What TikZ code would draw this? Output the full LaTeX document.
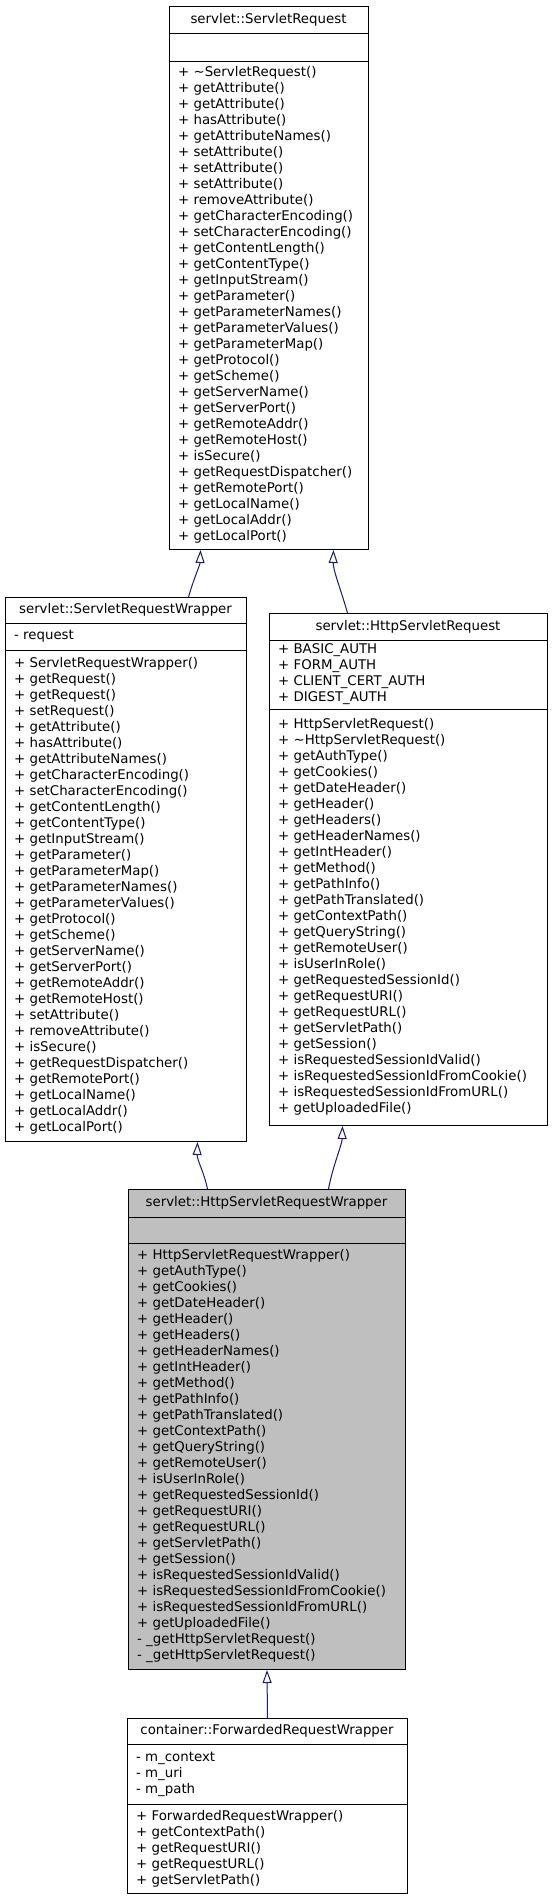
\documentclass[tikz,border=0pt]{standalone}
\usepackage{fontspec}
\setmainfont{DejaVu Sans}
\usetikzlibrary{calc, positioning, arrows.meta}
\definecolor{edgeblue}{HTML}{191970}
\definecolor{classgray}{HTML}{BFBFBF}

\begin{document}
\begin{tikzpicture}[
    x=1pt, y=-1pt,
    every node/.style = {font=\fontsize{13.33}{16}\selectfont, inner sep=0pt},
    cls/.style = {draw, rectangle, line width=1pt, anchor=north west},
    ctitle/.style = {anchor=center},
    members/.style = {anchor=west, align=left},
    sep/.style = {line width=1pt},
    inherit/.style = {draw=edgeblue, line width=1pt,
                      -{Triangle[open, length=13pt, width=9pt]}},
]
\useasboundingbox (0,0) rectangle (552,1899);

% servlet::ServletRequest
\node[cls, minimum width=199pt, minimum height=543pt] (sreq) at (169,6) {};
\draw[sep] ([yshift=-27pt]sreq.north west) -- ([yshift=-27pt]sreq.north east);
\draw[sep] ([yshift=-55pt]sreq.north west) -- ([yshift=-55pt]sreq.north east);
\node[ctitle] (sreq-title) at (268.5,19.5) {servlet::ServletRequest};
\node[members] (sreq-ops) at (178,305) {%
+ \textasciitilde ServletRequest()\\
+ getAttribute()\\
+ getAttribute()\\
+ hasAttribute()\\
+ getAttributeNames()\\
+ setAttribute()\\
+ setAttribute()\\
+ setAttribute()\\
+ removeAttribute()\\
+ getCharacterEncoding()\\
+ setCharacterEncoding()\\
+ getContentLength()\\
+ getContentType()\\
+ getInputStream()\\
+ getParameter()\\
+ getParameterNames()\\
+ getParameterValues()\\
+ getParameterMap()\\
+ getProtocol()\\
+ getScheme()\\
+ getServerName()\\
+ getServerPort()\\
+ getRemoteAddr()\\
+ getRemoteHost()\\
+ isSecure()\\
+ getRequestDispatcher()\\
+ getRemotePort()\\
+ getLocalName()\\
+ getLocalAddr()\\
+ getLocalPort()};

% servlet::ServletRequestWrapper
\node[cls, minimum width=241pt, minimum height=544pt] (srw) at (5,597) {};
\draw[sep] ([yshift=-26pt]srw.north west) -- ([yshift=-26pt]srw.north east);
\draw[sep] ([yshift=-53pt]srw.north west) -- ([yshift=-53pt]srw.north east);
\node[ctitle] (srw-title) at (125.5,610) {servlet::ServletRequestWrapper};
\node[members] (srw-attr) at (14,636.5) {- request};
\node[members] (srw-ops) at (14,895.5) {%
+ ServletRequestWrapper()\\
+ getRequest()\\
+ getRequest()\\
+ setRequest()\\
+ getAttribute()\\
+ hasAttribute()\\
+ getAttributeNames()\\
+ getCharacterEncoding()\\
+ setCharacterEncoding()\\
+ getContentLength()\\
+ getContentType()\\
+ getInputStream()\\
+ getParameter()\\
+ getParameterMap()\\
+ getParameterNames()\\
+ getParameterValues()\\
+ getProtocol()\\
+ getScheme()\\
+ getServerName()\\
+ getServerPort()\\
+ getRemoteAddr()\\
+ getRemoteHost()\\
+ setAttribute()\\
+ removeAttribute()\\
+ isSecure()\\
+ getRequestDispatcher()\\
+ getRemotePort()\\
+ getLocalName()\\
+ getLocalAddr()\\
+ getLocalPort()};

% servlet::HttpServletRequest
\node[cls, minimum width=278pt, minimum height=512pt] (hsr) at (269,613) {};
\draw[sep] ([yshift=-27pt]hsr.north west) -- ([yshift=-27pt]hsr.north east);
\draw[sep] ([yshift=-96pt]hsr.north west) -- ([yshift=-96pt]hsr.north east);
\node[ctitle] (hsr-title) at (408,626.5) {servlet::HttpServletRequest};
\node[members] (hsr-attr) at (278,674.5) {%
+ BASIC\_AUTH\\
+ FORM\_AUTH\\
+ CLIENT\_CERT\_AUTH\\
+ DIGEST\_AUTH};
\node[members] (hsr-ops) at (278,917) {%
+ HttpServletRequest()\\
+ \textasciitilde HttpServletRequest()\\
+ getAuthType()\\
+ getCookies()\\
+ getDateHeader()\\
+ getHeader()\\
+ getHeaders()\\
+ getHeaderNames()\\
+ getIntHeader()\\
+ getMethod()\\
+ getPathInfo()\\
+ getPathTranslated()\\
+ getContextPath()\\
+ getQueryString()\\
+ getRemoteUser()\\
+ isUserInRole()\\
+ getRequestedSessionId()\\
+ getRequestURI()\\
+ getRequestURL()\\
+ getServletPath()\\
+ getSession()\\
+ isRequestedSessionIdValid()\\
+ isRequestedSessionIdFromCookie()\\
+ isRequestedSessionIdFromURL()\\
+ getUploadedFile()};

% servlet::HttpServletRequestWrapper
\node[cls, fill=classgray, minimum width=277pt, minimum height=480pt] (hsrw) at (128,1189) {};
\draw[sep] ([yshift=-28pt]hsrw.north west) -- ([yshift=-28pt]hsrw.north east);
\draw[sep] ([yshift=-54pt]hsrw.north west) -- ([yshift=-54pt]hsrw.north east);
\node[ctitle] (hsrw-title) at (266.5,1203) {servlet::HttpServletRequestWrapper};
\node[members] (hsrw-ops) at (137,1456) {%
+ HttpServletRequestWrapper()\\
+ getAuthType()\\
+ getCookies()\\
+ getDateHeader()\\
+ getHeader()\\
+ getHeaders()\\
+ getHeaderNames()\\
+ getIntHeader()\\
+ getMethod()\\
+ getPathInfo()\\
+ getPathTranslated()\\
+ getContextPath()\\
+ getQueryString()\\
+ getRemoteUser()\\
+ isUserInRole()\\
+ getRequestedSessionId()\\
+ getRequestURI()\\
+ getRequestURL()\\
+ getServletPath()\\
+ getSession()\\
+ isRequestedSessionIdValid()\\
+ isRequestedSessionIdFromCookie()\\
+ isRequestedSessionIdFromURL()\\
+ getUploadedFile()\\
- \_getHttpServletRequest()\\
- \_getHttpServletRequest()};

% container::ForwardedRequestWrapper
\node[cls, minimum width=280pt, minimum height=175pt] (frw) at (127,1718) {};
\draw[sep] ([yshift=-26pt]frw.north west) -- ([yshift=-26pt]frw.north east);
\draw[sep] ([yshift=-86pt]frw.north west) -- ([yshift=-86pt]frw.north east);
\node[ctitle] (frw-title) at (267,1731) {container::ForwardedRequestWrapper};
\node[members] (frw-attr) at (136,1774) {%
- m\_context\\
- m\_uri\\
- m\_path};
\node[members] (frw-ops) at (136,1848.5) {%
+ ForwardedRequestWrapper()\\
+ getContextPath()\\
+ getRequestURI()\\
+ getRequestURL()\\
+ getServletPath()};

% inheritance
\draw[inherit] ([xshift=62.5pt]srw.north) .. controls (194,578) and (200,565) .. ([xshift=-68.5pt]sreq.south);
\draw[inherit] ([xshift=-61pt]hsr.north) .. controls (341,590) and (333,570) .. ([xshift=64.5pt]sreq.south);
\draw[inherit] ([xshift=-59.5pt]hsrw.north) .. controls (204,1172) and (197,1160) .. ([xshift=71.5pt]srw.south);
\draw[inherit] ([xshift=61.5pt]hsrw.north) .. controls (333,1165) and (342,1145) .. ([xshift=-66pt]hsr.south);
\draw[inherit] (frw.north) -- (hsrw.south);
\end{tikzpicture}
\end{document}
